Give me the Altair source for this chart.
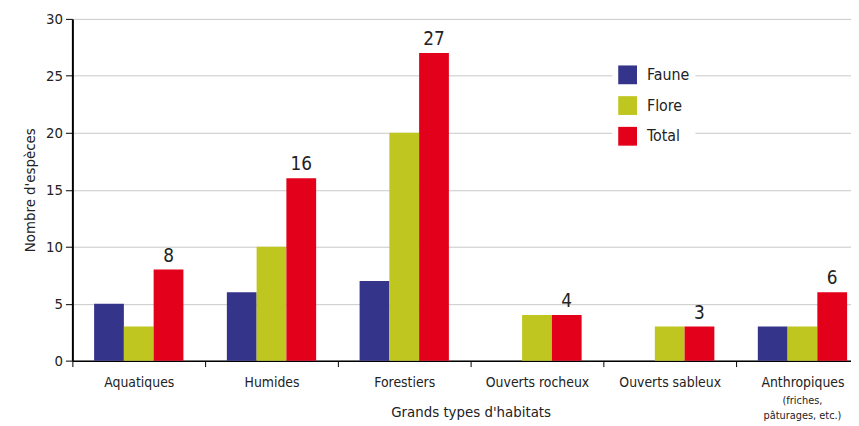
import altair as alt
import pandas as pd

categories = ["Aquatiques", "Humides", "Forestiers", "Ouverts rocheux", "Ouverts sableux", "Anthropiques"]
series = ["Faune", "Flore", "Total"]
faune = [5, 6, 7, 0, 0, 3]
flore = [3, 10, 20, 4, 3, 3]
total = [8, 16, 27, 4, 3, 6]
colors = ["#34358a", "#bec61f", "#e2001a"]
sub_label = ["(friches,", "pâturages, etc.)"]

rows = []
for i, c in enumerate(categories):
    for s, vals in zip(series, [faune, flore, total]):
        rows.append({"habitat": c, "serie": s, "value": vals[i]})
df = pd.DataFrame(rows)
sub_df = pd.DataFrame([{"habitat": "Anthropiques", "txt": sub_label}])

FONT = "DejaVu Sans Condensed"
W, H = 786, 345
XRANGE = 804

xscale = alt.Scale(paddingInner=0, paddingOuter=0, range=[0, XRANGE])
xenc = alt.X(
    "habitat:N", sort=categories, scale=xscale,
    axis=alt.Axis(title="Grands types d'habitats", labelAngle=0, tickBand="extent",
                  domainColor="black", domainWidth=1.5, tickColor="black", tickSize=6,
                  labelFontSize=14, labelPadding=9, titleFontSize=15, titlePadding=15,
                  labelColor="#222", titleColor="#222", titleFontWeight="normal",
                  titleX=XRANGE / 2),
)
xoff = alt.XOffset("serie:N", sort=series, scale=alt.Scale(paddingOuter=0.73, paddingInner=0))

bars = alt.Chart(df).mark_bar().encode(
    x=xenc,
    xOffset=xoff,
    y=alt.Y("value:Q", scale=alt.Scale(domain=[0, 30], nice=False),
            axis=alt.Axis(title="Nombre d'espèces", values=[0, 5, 10, 15, 20, 25, 30],
                          grid=True, gridColor="#c8c8c8", domainColor="black", domainWidth=2,
                          tickColor="black", tickSize=7, labelFontSize=15, titleFontSize=15,
                          labelColor="#222", titleColor="#222", titleFontWeight="normal",
                          titlePadding=8, labelPadding=3)),
    color=alt.Color("serie:N", sort=series,
                    scale=alt.Scale(domain=series, range=colors),
                    legend=alt.Legend(title=None, orient="none", legendX=545, legendY=41,
                                      symbolType="square", symbolSize=360, symbolStrokeWidth=0,
                                      labelFontSize=16, labelColor="#222", rowPadding=12,
                                      labelOffset=10, fillColor="white", padding=6)),
)

labels = alt.Chart(df).transform_filter(alt.datum.serie == "Total").mark_text(
    baseline="bottom", dy=-4, fontSize=19, color="#222", font=FONT
).encode(
    x=alt.X("habitat:N", sort=categories, scale=xscale),
    xOffset=xoff,
    y="value:Q",
    text="value:Q",
)

sub = alt.Chart(sub_df).mark_text(
    baseline="top", fontSize=11, color="#222", font=FONT, lineHeight=15
).encode(
    x=alt.X("habitat:N", sort=categories, scale=xscale),
    y=alt.value(H + 35),
    text="txt",
)

chart = alt.layer(bars, labels, sub).properties(
    width=W, height=H,
    autosize=alt.AutoSizeParams(type="none"),
    padding={"left": 65, "top": 9, "right": 0, "bottom": 64},
).configure(font=FONT).configure_view(stroke=None)

chart.save("out.html", embed_options={"renderer": "svg", "actions": False})
